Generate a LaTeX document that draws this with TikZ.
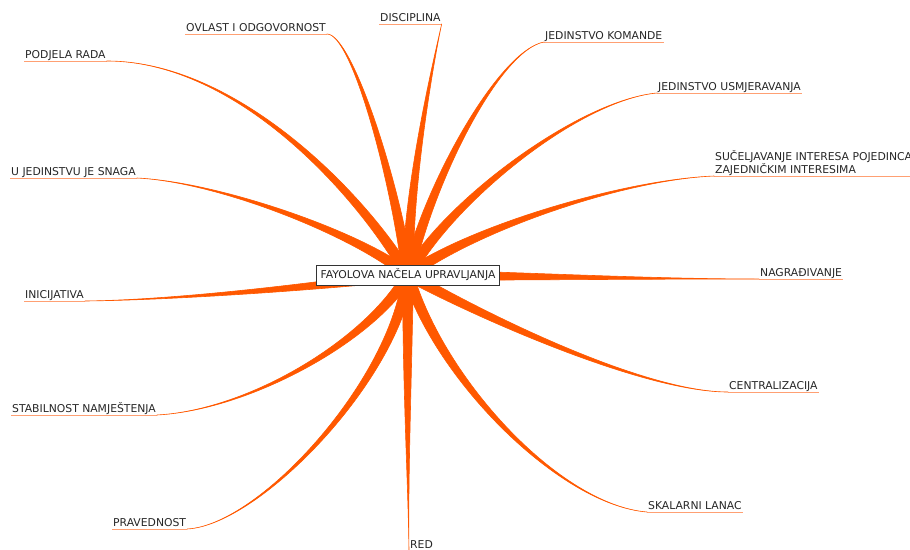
\documentclass[tikz,border=0pt]{standalone}
\usepackage{fontspec}
\setmainfont{DejaVu Sans}
\usetikzlibrary{calc}
\definecolor{twigorange}{RGB}{255,88,0}
\definecolor{lineorange}{RGB}{255,160,115}
\definecolor{labelgray}{RGB}{38,38,38}
\newcommand{\mmbranch}[3]{%
  \filldraw[twig] ($(hub)!5.5pt!90:#1$) .. controls ($#1!4pt!-90:(hub)$) and #2 .. #3
    .. controls #2 and ($#1!4pt!90:(hub)$) .. ($(hub)!5.5pt!-90:#1$) -- cycle;}
\begin{document}
\begin{tikzpicture}[x=1pt,y=-1pt,
    topic/.style={inner xsep=1pt,inner ysep=2.2pt,text depth=0pt,anchor=south west,text=labelgray,font=\fontsize{10.8}{13}\selectfont},
    twig/.style={fill=twigorange,draw=twigorange,line width=0.6pt,line join=round},
    uline/.style={draw=lineorange,line width=1pt},
    root/.style={draw=black!80,fill=white,line width=0.7pt,inner xsep=4pt,minimum height=20pt,text=labelgray,font=\fontsize{10.8}{13}\selectfont}]
        \useasboundingbox (0,0) rectangle (910,549);
        \coordinate (hub) at (408,275);

        \node[topic] (pr) at (24,61) {PODJELA RADA};
        \node[topic] (ov) at (185,34) {OVLAST I ODGOVORNOST};
        \node[topic] (di) at (379,24) {DISCIPLINA};
        \node[topic] (jk) at (544,42) {JEDINSTVO KOMANDE};
        \node[topic] (ju) at (657,93) {JEDINSTVO USMJERAVANJA};
        \node[topic] (su) at (714,176) {\parbox[b]{200pt}{SUČELJAVANJE INTERESA POJEDINCA\\ZAJEDNIČKIM INTERESIMA}};
        \node[topic] (na) at (759,279) {NAGRAĐIVANJE};
        \node[topic] (ce) at (728,392) {CENTRALIZACIJA};
        \node[topic] (sk) at (647,512) {SKALARNI LANAC};
        \node[topic] (re) at (409,551) {RED};
        \node[topic] (pv) at (112,529) {PRAVEDNOST};
        \node[topic] (st) at (11,415) {STABILNOST NAMJEŠTENJA};
        \node[topic] (ini) at (24,301) {INICIJATIVA};
        \node[topic] (uj) at (10,178) {U JEDINSTVU JE SNAGA};

        \draw[uline] (pr.south west) -- (pr.south east);
        \draw[uline] (ov.south west) -- (ov.south east);
        \draw[uline] (di.south west) -- (di.south east);
        \draw[uline] (jk.south west) -- (jk.south east);
        \draw[uline] (ju.south west) -- (ju.south east);
        \draw[uline] (su.south west) -- (su.south east);
        \draw[uline] (na.south west) -- (na.south east);
        \draw[uline] (ce.south west) -- (ce.south east);
        \draw[uline] (sk.south west) -- (sk.south east);
        \draw[uline] (re.south west) -- (re.south east);
        \draw[uline] (pv.south west) -- (pv.south east);
        \draw[uline] (st.south west) -- (st.south east);
        \draw[uline] (ini.south west) -- (ini.south east);
        \draw[uline] (uj.south west) -- (uj.south east);

        \mmbranch{(365,200)}{(240,61)}{(pr.south east)}
        \mmbranch{(395,180)}{(352,34)}{(ov.south east)}
        \mmbranch{(408,180)}{(436,50)}{(di.south east)}
        \mmbranch{(430,180)}{(500,50)}{(jk.south west)}
        \mmbranch{(450,200)}{(580,100)}{(ju.south west)}
        \mmbranch{(470,230)}{(620,180)}{(su.south west)}
        \mmbranch{(520,276)}{(650,279)}{(na.south west)}
        \mmbranch{(470,310)}{(640,392)}{(ce.south west)}
        \mmbranch{(440,380)}{(560,505)}{(sk.south west)}
        \mmbranch{(407,400)}{(408,480)}{(re.south west)}
        \mmbranch{(395,380)}{(260,525)}{(pv.south east)}
        \mmbranch{(370,340)}{(250,410)}{(st.south east)}
        \mmbranch{(330,285)}{(180,300)}{(ini.south east)}
        \mmbranch{(360,235)}{(220,182)}{(uj.south east)}

        \node[root] (c) at (hub) {FAYOLOVA NAČELA UPRAVLJANJA};
    \end{tikzpicture}
\end{document}
